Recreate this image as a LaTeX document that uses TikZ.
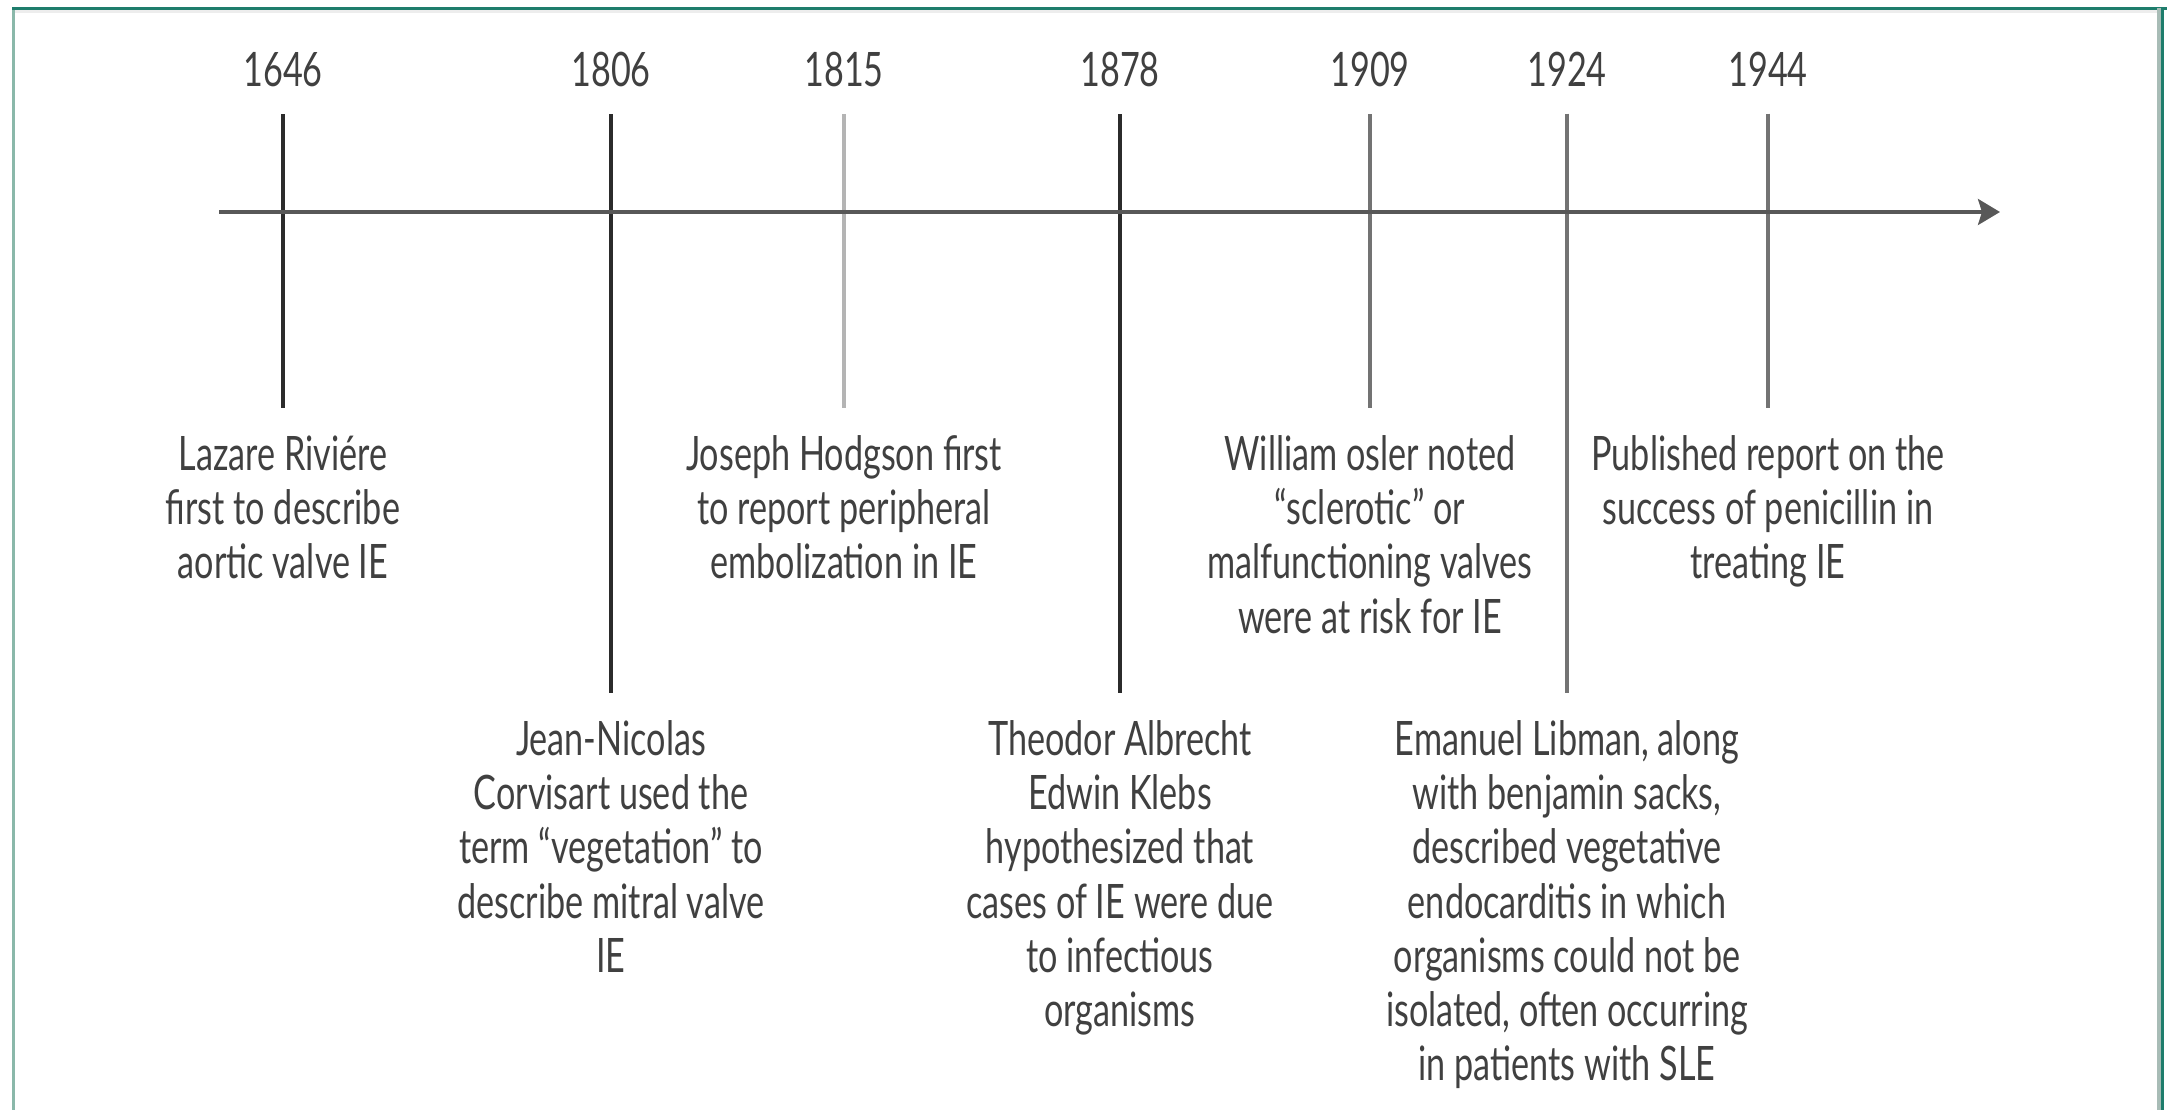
\documentclass[tikz,border=0pt]{standalone}
\usepackage{fontspec}
\setmainfont{Lato}[FakeStretch=0.72]
\usetikzlibrary{arrows.meta}
\definecolor{frameteal}{RGB}{30,125,108}
\definecolor{framelight}{RGB}{138,184,170}
\definecolor{framegrey}{RGB}{168,188,182}
\definecolor{tickdark}{RGB}{43,43,43}
\definecolor{tickmid}{RGB}{115,115,115}
\definecolor{ticklight}{RGB}{180,180,180}
\definecolor{axisgrey}{RGB}{88,88,88}
\newcommand{\tlfont}{\fontsize{13.5}{15.4}\selectfont}

\begin{document}
\begin{tikzpicture}[x=0.01cm, y=-0.01cm,
  year/.style={inner sep=0, anchor=base, font=\tlfont, text=black!75},
  event/.style={inner sep=0, anchor=north, align=center, font=\tlfont, text=black!75},
  tick/.style={line width=0.9pt, shorten <=0.26cm, shorten >=0.27cm}]
  \useasboundingbox (0,0) rectangle (2171,1110);
  \fill [white] (0,0) rectangle (2171,1110);

  % frame
  \fill [black!7] (15,10) rectangle (2157,13);
  \draw [framelight, line width=0.85pt] (13.5,8) -- (13.5,1110);
  \draw [frameteal, line width=0.85pt] (12,8.5) -- (2167,8.5);
  \draw [framegrey, line width=1.1pt] (2159,8) -- (2159,1110);
  \draw [frameteal, line width=0.85pt] (2162.5,8) -- (2162.5,1110);

  % events
  \node [event] (ev1646) at (283,435) {Lazare Riviére\\first to describe\\aortic valve IE};
  \node [event] (ev1806) at (611,720) {Jean-Nicolas\\Corvisart used the\\term “vegetation” to\\describe mitral valve\\IE};
  \node [event] (ev1815) at (844,435) {Joseph Hodgson first\\to report peripheral\\embolization in IE};
  \node [event] (ev1878) at (1120,720) {Theodor Albrecht\\Edwin Klebs\\hypothesized that\\cases of IE were due\\to infectious\\organisms};
  \node [event] (ev1909) at (1370,435) {William osler noted\\“sclerotic” or\\malfunctioning valves\\were at risk for IE};
  \node [event] (ev1924) at (1567,720) {Emanuel Libman, along\\with benjamin sacks,\\described vegetative\\endocarditis in which\\organisms could not be\\isolated, often occurring\\in patients with SLE};
  \node [event] (ev1944) at (1768,435) {Published report on the\\success of penicillin in\\treating IE};

  % years and their ticks
  \foreach \yr/\x/\col in {1646/283/tickdark, 1806/611/tickdark, 1815/844/ticklight,
      1878/1120/tickdark, 1909/1370/tickmid, 1924/1567/tickmid, 1944/1768/tickmid} {
    \node [year] (y\yr) at (\x,87) {\yr};
    \draw [tick, \col] (y\yr) -- (ev\yr);
  }

  % time axis
  \coordinate (t0) at (219,212);
  \coordinate (t1) at (2000,212);
  \draw [axisgrey, line width=0.9pt, -{Stealth[length=0.22cm, width=0.26cm, inset=0.04cm]}] (t0) -- (t1);
\end{tikzpicture}
\end{document}
